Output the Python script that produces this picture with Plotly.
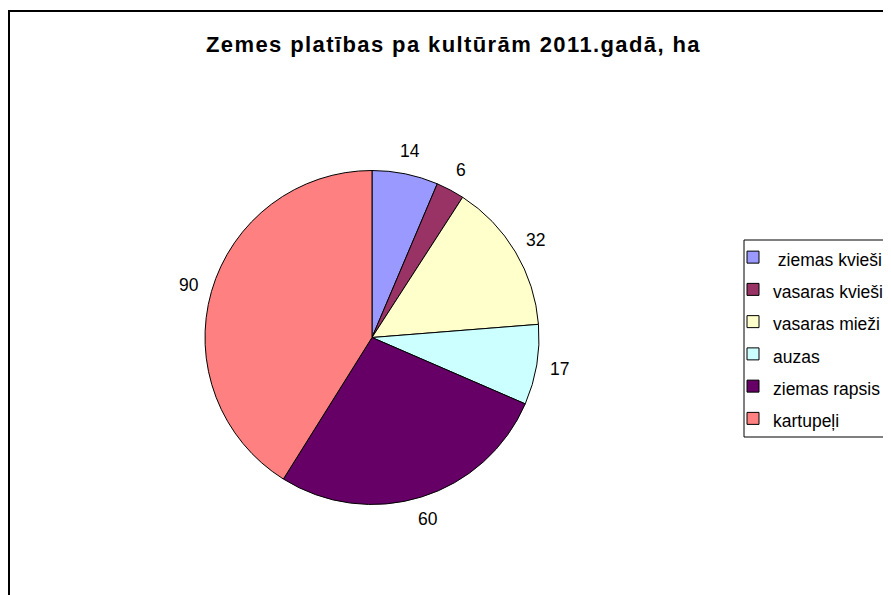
import math
import plotly.graph_objects as go

labels = [" ziemas kvieši", "vasaras kvieši", "vasaras mieži", "auzas", "ziemas rapsis", "kartupeļi"]
values = [14, 6, 32, 17, 60, 90]
colors = ["#9999FF", "#993366", "#FFFFCC", "#CCFFFF", "#660066", "#FF8080"]
title_text = "Zemes platības pa kultūrām 2011.gadā, ha"

W, H = 891, 595
OFF = 8  # page body margin of the html page


def px_x(x):
    return (x - OFF) / W


def px_y(y):
    return (H - (y - OFF)) / H


FONT = "Arial, Liberation Sans, sans-serif"

legend_labels = ['<span style="font-size:17.5px">%s</span>' % l for l in labels]

dom_x = [px_x(205), px_x(539)]
dom_y = [px_y(505), px_y(170)]

fig = go.Figure(go.Pie(
    labels=legend_labels,
    values=values,
    marker=dict(colors=colors, line=dict(color="black", width=1)),
    sort=False,
    direction="clockwise",
    rotation=0,
    textinfo="none",
    domain=dict(x=dom_x, y=dom_y),
    hoverinfo="label+value",
))

# data labels placed radially outside each slice (mid-angle of each value)
cx = (dom_x[0] + dom_x[1]) / 2
cy = (dom_y[0] + dom_y[1]) / 2
R = min((dom_x[1] - dom_x[0]) * W, (dom_y[1] - dom_y[0]) * H) / 2
LABEL_R = R + 23
total = sum(values)
annotations = []
cum = 0
for v in values:
    theta = 2 * math.pi * (cum + v / 2) / total
    cum += v
    annotations.append(dict(
        x=cx + LABEL_R * math.sin(theta) / W,
        y=cy + LABEL_R * math.cos(theta) / H,
        xref="paper", yref="paper",
        text=str(v), showarrow=False,
        xanchor="center", yanchor="middle",
        font=dict(family=FONT, size=17.5, color="black"),
    ))

fig.update_layout(
    width=W, height=H,
    margin=dict(l=0, r=0, t=0, b=0),
    paper_bgcolor="white",
    plot_bgcolor="white",
    title=dict(
        text='<span style="letter-spacing:1.4px"><b>%s</b></span>' % title_text,
        x=px_x(453.5), xanchor="center",
        y=px_y(44.5), yanchor="middle",
        font=dict(family=FONT, size=22, color="black"),
    ),
    legend=dict(
        x=px_x(733), xanchor="left",
        y=px_y(236), yanchor="top",
        borderwidth=0,
        bgcolor="rgba(0,0,0,0)",
        font=dict(family=FONT, size=22.5, color="black"),
    ),
    annotations=annotations,
    shapes=[
        dict(
            type="rect", xref="paper", yref="paper",
            x0=1 / W, x1=1.05, y0=-0.05, y1=px_y(11),
            line=dict(color="black", width=2),
            layer="below",
        ),
        dict(
            type="rect", xref="paper", yref="paper",
            x0=px_x(744), x1=1.05, y0=px_y(437), y1=px_y(240),
            line=dict(color="black", width=1),
            fillcolor="white",
            layer="below",
        ),
    ],
)

fig.write_html("out.html")
